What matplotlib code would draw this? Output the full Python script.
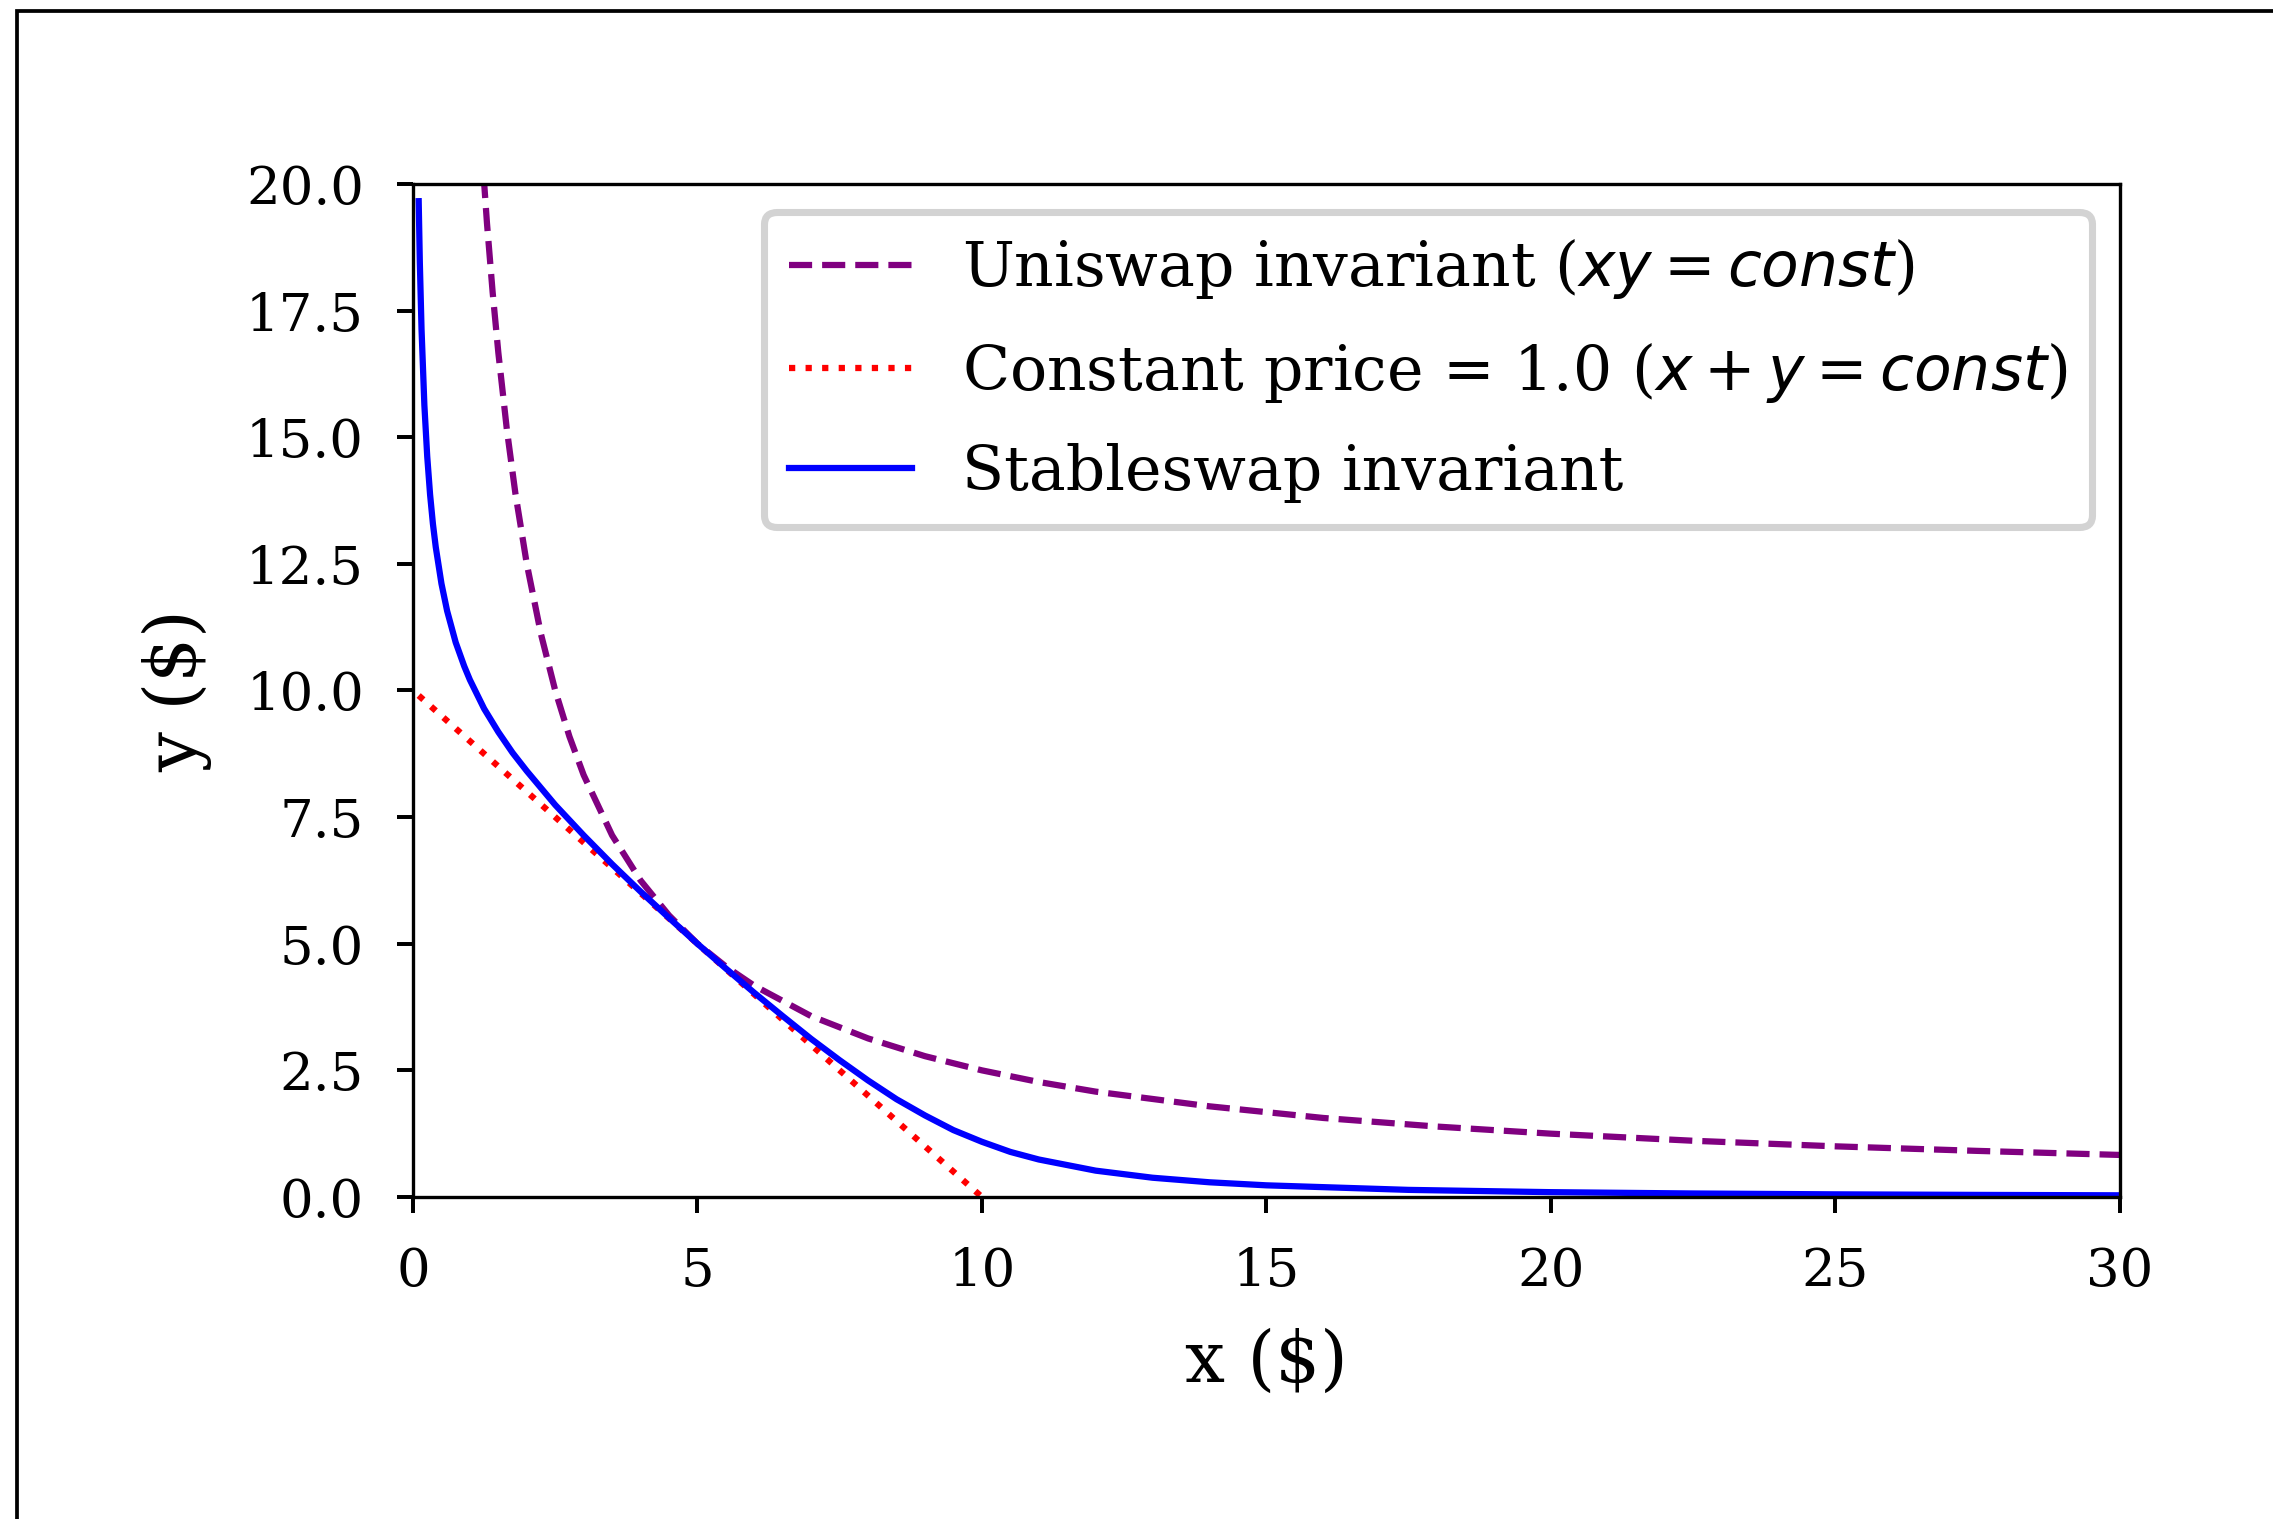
import matplotlib
matplotlib.use("Agg")
import matplotlib.pyplot as plt
from matplotlib.patches import Rectangle

plt.rcParams['font.family'] = 'serif'
plt.rcParams['font.serif'] = ['DejaVu Serif']

# Uniswap invariant (xy = const)
uni_x = [1.2, 1.3, 1.4, 1.5, 1.65, 1.8, 2.0, 2.25, 2.5, 2.75, 3.0, 3.5, 4.0, 4.5, 5.0, 5.5, 6.0,
         7.0, 8.0, 9.0, 10.0, 11.0, 12.0, 14.0, 16.0, 18.0, 20.0, 22.5, 25.0, 27.5, 30.0]
uni_y = [20.83, 19.23, 17.86, 16.67, 15.15, 13.89, 12.5, 11.11, 10.0, 9.09, 8.33, 7.14, 6.25, 5.56, 5.0, 4.55, 4.17,
         3.57, 3.13, 2.78, 2.5, 2.27, 2.08, 1.79, 1.56, 1.39, 1.25, 1.11, 1.0, 0.91, 0.83]

# constant price line (x + y = const)
lin_x = [0.1, 10.0]
lin_y = [9.9, 0.0]

# Stableswap invariant
ss_x = [0.1, 0.12, 0.15, 0.2, 0.25, 0.3, 0.35, 0.4, 0.5, 0.6, 0.75, 0.9, 1.0, 1.25, 1.5, 1.75, 2.0, 2.5,
        3.0, 3.5, 4.0, 4.5, 5.0, 5.5, 6.0, 6.5, 7.0, 7.5, 8.0, 8.5, 9.0, 9.5, 10.0, 10.5, 11.0, 12.0,
        13.0, 14.0, 15.0, 17.5, 20.0, 22.5, 25.0, 27.5, 30.0]
ss_y = [19.66, 18.45, 17.13, 15.63, 14.62, 13.87, 13.29, 12.83, 12.11, 11.57, 10.95, 10.48, 10.21, 9.64, 9.18, 8.77, 8.41, 7.74,
        7.14, 6.57, 6.03, 5.51, 5.0, 4.51, 4.03, 3.57, 3.12, 2.70, 2.30, 1.93, 1.61, 1.32, 1.09, 0.89, 0.74, 0.52,
        0.38, 0.29, 0.23, 0.14, 0.095, 0.069, 0.052, 0.041, 0.033]

fig = plt.figure(figsize=(2273/300, 1519/300), dpi=300)
ax = fig.add_axes([0.1817, 0.212, 0.7508, 0.6669])

ax.plot(uni_x, uni_y, '--', color='purple', lw=1.5, label=r'Uniswap invariant ($xy = const$)')
ax.plot(lin_x, lin_y, ':', color='red', lw=1.5, label=r'Constant price = 1.0 ($x + y = const$)')
ax.plot(ss_x, ss_y, '-', color='blue', lw=1.5, label='Stableswap invariant')

ax.set_xlim(0, 30)
ax.set_ylim(0, 20)
ax.set_xticks([0, 5, 10, 15, 20, 25, 30])
ax.set_yticks([0, 2.5, 5, 7.5, 10, 12.5, 15, 17.5, 20])
ax.set_yticklabels(['0.0', '2.5', '5.0', '7.5', '10.0', '12.5', '15.0', '17.5', '20.0'])
ax.tick_params(labelsize=12.7, length=3.8, width=0.95, pad=8)
for s in ax.spines.values():
    s.set_linewidth(0.8)

ax.set_xlabel('x ($)', fontsize=17, labelpad=7.5)
ax.set_ylabel('y ($)', fontsize=17, labelpad=8)

leg = ax.legend(loc='upper right', fontsize=14.8, edgecolor='lightgray', framealpha=1,
                labelspacing=0.62, borderaxespad=0.45)
leg.get_frame().set_linewidth(1.7)

# outer frame (only left and top edges fall inside the image)
fig.patches.append(Rectangle((0.0075, -0.2), 1.2, 0.2 + 0.9928, transform=fig.transFigure,
                             fill=False, edgecolor='black', lw=0.9))

fig.savefig('out.png', dpi=300)
